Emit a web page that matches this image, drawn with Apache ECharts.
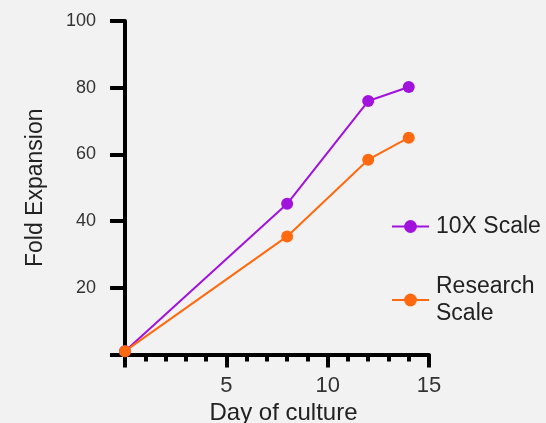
<!DOCTYPE html>
<html>
<head>
<meta charset="utf-8">
<script src="https://cdn.jsdelivr.net/npm/echarts@6/dist/echarts.min.js"></script>
<style>
html,body{margin:0;padding:0;background:#f2f2f2;}
#c{width:546px;height:423px;}
</style>
</head>
<body>
<div id="c"></div>
<script>
const days = [0, 8, 12, 14];
const seriesNames = ['10X Scale', 'Research Scale'];
const scale10x = [1, 45.2, 76, 80.2];
const researchScale = [1, 35.4, 58.4, 65];
const yTicks = [0, 20, 40, 60, 80, 100];
const xTicks = [0, 5, 10, 15];
const colors = ['#a112dc', '#ff6a10'];

const font = '"Liberation Sans", Arial, Helvetica, sans-serif';
const chart = echarts.init(document.getElementById('c'), null, {renderer: 'canvas'});
function pairs(xs, ys) { return xs.map((x, i) => [x, ys[i]]); }

chart.setOption({
  backgroundColor: '#f2f2f2',
  animation: false,
  grid: {left: 125, right: 117, top: 21, bottom: 68.5, containLabel: false, outerBoundsMode: 'none'},
  xAxis: {
    type: 'value', min: 0, max: 15, interval: 5,
    name: 'Day of culture', nameLocation: 'middle', nameGap: 40,
    nameTextStyle: {fontFamily: font, fontSize: 24, color: '#222', padding: [0, 0, 0, 13]},
    axisLine: {show: true, onZero: false, lineStyle: {color: '#000', width: 4}},
    axisTick: {show: true, length: 13, lineStyle: {color: '#000', width: 4}},
    minorTick: {show: true, splitNumber: 5, length: 7, lineStyle: {color: '#000', width: 4}},
    splitLine: {show: false},
    axisLabel: {fontFamily: font, fontSize: 22, color: '#333', margin: 20,
      formatter: v => (v === 0 ? '' : String(v))}
  },
  yAxis: {
    type: 'value', min: 0, max: 100, interval: 20,
    name: 'Fold Expansion', nameLocation: 'middle', nameGap: 78, nameRotate: 90,
    nameTextStyle: {fontFamily: font, fontSize: 23, color: '#222'},
    axisLine: {show: true, onZero: false, lineStyle: {color: '#000', width: 4}},
    axisTick: {show: true, length: 15, lineStyle: {color: '#000', width: 4}},
    splitLine: {show: false},
    axisLabel: {fontFamily: font, fontSize: 18, color: '#333', margin: 29,
      formatter: v => (v === 0 ? '' : String(v))}
  },
  legend: {
    orient: 'vertical', left: 391, top: 213, padding: 0,
    itemWidth: 37, itemHeight: 16, itemGap: 33,
    textStyle: {fontFamily: font, fontSize: 23, color: '#222', lineHeight: 27, padding: [0, 0, 0, 2]},
    formatter: n => (n === 'Research Scale' ? 'Research\nScale' : n),
    data: seriesNames
  },
  series: [
    {name: seriesNames[0], type: 'line', data: pairs(days, scale10x), color: colors[0],
     symbol: 'circle', symbolSize: 12, lineStyle: {width: 2}, z: 3},
    {name: seriesNames[1], type: 'line', data: pairs(days, researchScale), color: colors[1],
     symbol: 'circle', symbolSize: 12, lineStyle: {width: 2}, z: 4}
  ]
});
</script>
</body>
</html>
